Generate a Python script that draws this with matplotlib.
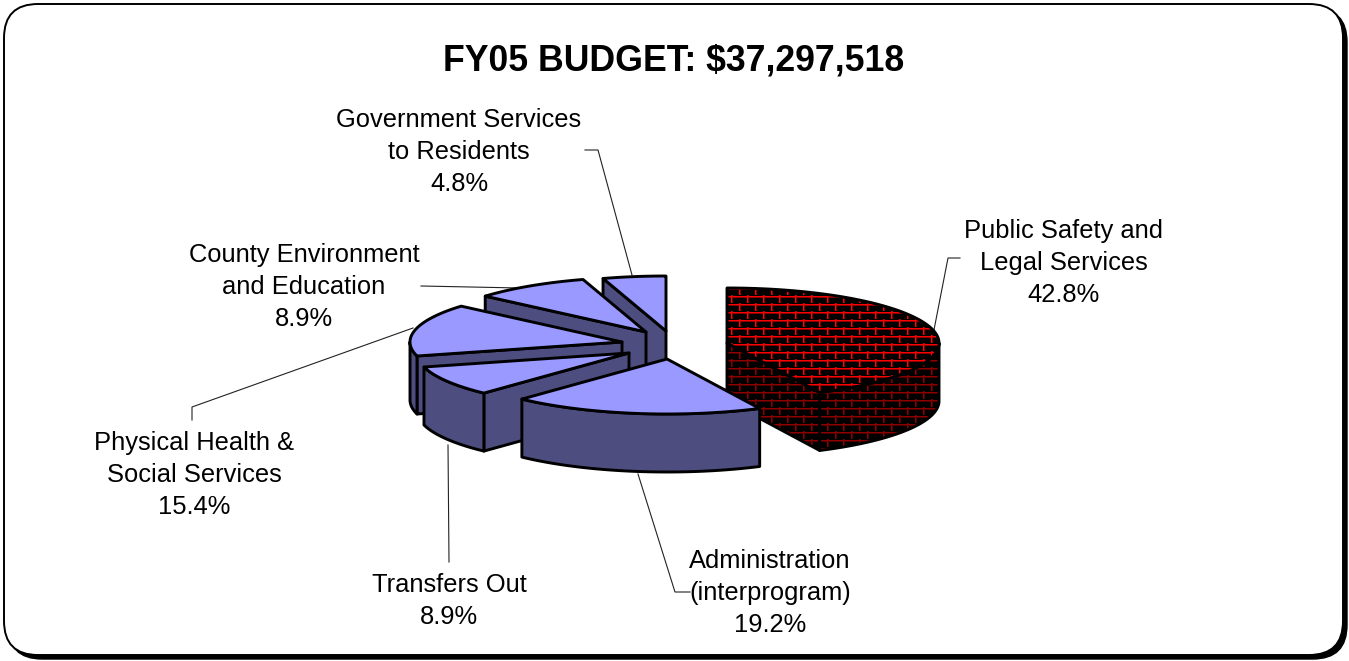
import numpy as np
import matplotlib
matplotlib.use("Agg")
import matplotlib.pyplot as plt
from matplotlib.patches import FancyBboxPatch, Polygon

plt.rcParams["font.family"] = ["Liberation Sans", "DejaVu Sans"]

title = "FY05 BUDGET: $37,297,518"
names = ["Public Safety and\nLegal Services", "Administration\n(interprogram)", "Transfers Out",
         "Physical Health &\nSocial Services", "County Environment\nand Education",
         "Government Services\nto Residents"]
shares = [42.8, 19.2, 8.9, 15.4, 8.9, 4.8]

# layout, all in reference pixels
W, H = 1349, 661
RX, RY, DEPTH = 212, 55, 58
apex = [(727, 343), (667, 359), (629, 353), (622, 342), (646, 332), (666, 331)]
label_xy = [(1064, 263), (770, 593), (449, 601), (194, 475), (304, 287), (459, 152)]
leaders = [
    [(960, 258), (948, 258), (933, 335)],
    [(690, 592), (675, 592), (638, 474)],
    [(449, 562), (448, 445)],
    [(192, 420), (192, 407), (413, 328)],
    [(421, 286), (520, 288)],
    [(585, 150), (598, 150), (632, 275)],
]
TOP = "#9999FF"
WALL = "#4D4D80"
paint_order = [0, 5, 4, 3, 2, 1]

fig = plt.figure(figsize=(W / 100, H / 100), dpi=100, facecolor="white")
ax = fig.add_axes([0, 0, 1, 1])
ax.axis("off")


def brick_texture(rgb):
    yy, xx = np.mgrid[0:H, 0:W]
    row = yy // 8
    shift = (row % 2) * 8
    line = np.zeros((H, W))
    line[yy % 8 == 2] = 0.55
    vert = (xx + shift) % 16
    line[vert == 4] = np.maximum(line[vert == 4], 0.55)
    line[vert == 3] = 1
    line[yy % 8 == 1] = 1
    return np.dstack([line * c for c in rgb])


bright = brick_texture((1, 0, 0))
dark = brick_texture((0.55, 0, 0))


def rim(c, a0, a1, drop=0):
    t = np.radians(np.linspace(a0, a1, max(2, int(abs(a1 - a0) * 2))))
    return np.column_stack([c[0] + RX * np.cos(t), c[1] - RY * np.sin(t) + drop])


z = [10]


def face(pts, color=None, texture=None):
    z[0] += 1
    if texture is None:
        ax.add_patch(Polygon(pts, closed=True, fc=color, ec="black", lw=2.1, joinstyle="round", zorder=z[0]))
        return
    clip = Polygon(pts, closed=True, transform=ax.transData)
    im = ax.imshow(texture, extent=(-0.5, W - 0.5, H - 0.5, -0.5), interpolation="nearest", aspect="auto", zorder=z[0])
    im.set_clip_path(clip)
    z[0] += 1
    ax.add_patch(Polygon(pts, closed=True, fc="none", ec="black", lw=2.1, joinstyle="round", zorder=z[0]))


# slices start at 12 o'clock and run clockwise
ends = 90 - np.cumsum(shares) * 3.6
starts = np.r_[90, ends[:-1]]

for i in paint_order:
    c = np.array(apex[i], float)
    a0, a1 = starts[i], ends[i]
    wall_kw = {"texture": dark} if i == 0 else {"color": WALL}
    top_kw = {"texture": bright} if i == 0 else {"color": TOP}
    # cut faces, only those turned toward the viewer
    d = np.array([0, DEPTH])
    if np.cos(np.radians(a0)) < -1e-6:
        p = rim(c, a0, a0)[0]
        face([c, p, p + d, c + d], **wall_kw)
    if np.cos(np.radians(a1)) > 1e-6:
        p = rim(c, a1, a1)[0]
        face([c, p, p + d, c + d], **wall_kw)
    # outer wall, only the part that faces the viewer
    lo, hi = max(a1, -180), min(a0, 0)
    if hi > lo:
        up = rim(c, hi, lo)
        face(np.vstack([up, rim(c, lo, hi, DEPTH)]), **wall_kw)
    face(np.vstack([[c], rim(c, a0, a1)]), **top_kw)

for pts in leaders:
    xs, ys = zip(*pts)
    ax.plot(xs, ys, color="#222222", lw=0.8, zorder=5, solid_joinstyle="miter")

for name, share, (x, y) in zip(names, shares, label_xy):
    ax.text(x, y, f"{name}\n{share:.1f}%", ha="center", va="center", fontsize=18.4,
            linespacing=1.4, color="black", zorder=60)

ax.text(674, 61, title, ha="center", va="center", fontsize=25.7, fontweight="bold", zorder=60)

# card with drop shadow
box = dict(boxstyle="round,pad=0,rounding_size=34")
ax.add_patch(FancyBboxPatch((8, 8), 1339, 651, fc="black", ec="black", lw=1, zorder=1, **box))
ax.add_patch(FancyBboxPatch((4, 4), 1339, 651, fc="white", ec="black", lw=1.4, zorder=2, **box))

ax.set_xlim(0, W)
ax.set_ylim(H, 0)
fig.savefig("out.png", dpi=100, facecolor="white")
